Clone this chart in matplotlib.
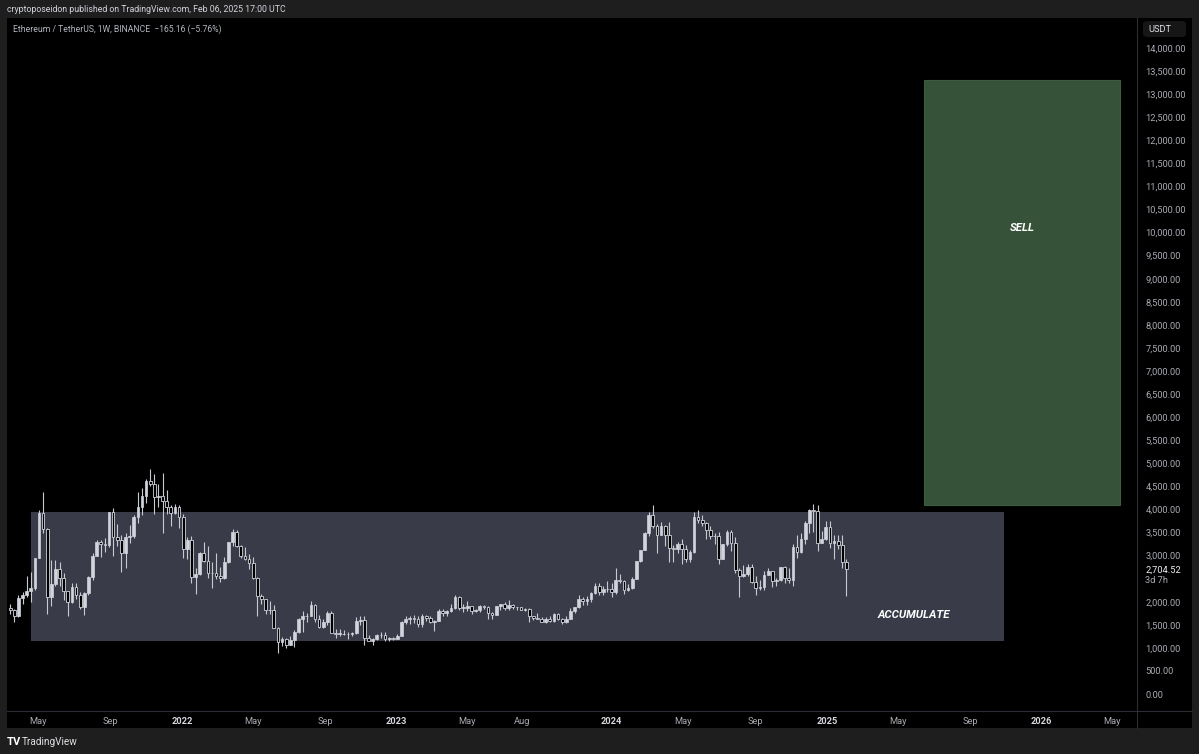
import numpy as np
import pandas as pd
import matplotlib
matplotlib.use("Agg")
import matplotlib.pyplot as plt
import matplotlib.dates as mdates
import matplotlib.transforms as mtrans
from matplotlib.patches import Rectangle, FancyBboxPatch
from matplotlib.lines import Line2D

plt.rcParams['font.family'] = ['Roboto', 'DejaVu Sans']

# ---------------- data (weekly ETH/USDT candles) ----------------
first_week = "2021-03-15"
opens = [1870, 1810, 1690, 2080, 2140, 2240, 2300, 2950, 3920, 3580,
         2100, 2380, 2710, 2510, 2230, 1990, 2320, 2140, 1890, 2190,
         2540, 3000, 3290, 3250, 3230, 3940, 3400, 3330, 3060, 3400,
         3420, 3830, 4050, 4290, 4610, 4560, 4270, 4290, 4190, 4060,
         3920, 4050, 3830, 3150, 3330, 2540, 2600, 3060, 2880, 2620,
         2620, 2550, 2520, 2860, 3290, 3510, 3200, 2990, 2930, 2830,
         2520, 2120, 2050, 1820, 1810, 1440, 1130, 1200, 1070, 1170,
         1340, 1620, 1680, 1700, 1930, 1620, 1450, 1570, 1760, 1330,
         1300, 1310, 1290, 1310, 1320, 1590, 1610, 1220, 1150, 1200,
         1280, 1270, 1190, 1220, 1200, 1260, 1550, 1630, 1640, 1630,
         1510, 1690, 1640, 1570, 1590, 1790, 1750, 1790, 1860, 2100,
         1870, 1870, 1900, 1800, 1810, 1910, 1890, 1750, 1720, 1900,
         1940, 1870, 1930, 1890, 1880, 1830, 1850, 1680, 1650, 1630,
         1560, 1620, 1590, 1730, 1630, 1560, 1630, 1800, 1890, 2050,
         2010, 2060, 2190, 2350, 2200, 2270, 2280, 2220, 2470, 2450,
         2260, 2290, 2500, 2880, 3110, 3490, 3890, 3640, 3450, 3650,
         3450, 3160, 3150, 3260, 3140, 2930, 3070, 3830, 3780, 3700,
         3560, 3420, 3430, 2930, 3240, 3520, 3270, 2690, 2560, 2610,
         2750, 2430, 2290, 2320, 2580, 2660, 2440, 2470, 2750, 2510,
         2460, 3180, 3080, 3360, 3710, 3990, 3960, 3280, 3360, 3630,
         3270, 3310, 3230, 2870]
highs = [1940, 1840, 2140, 2200, 2550, 2640, 2950, 3980, 4370, 3600,
         2900, 2900, 2850, 2620, 2240, 2400, 2410, 2200, 2200, 2550,
         3050, 3330, 3340, 3380, 3950, 4030, 3680, 3440, 3480, 3660,
         3890, 4380, 4460, 4660, 4870, 4770, 4550, 4780, 4420, 4100,
         4120, 4100, 3900, 3410, 3420, 2730, 3070, 3290, 3200, 2850,
         3050, 2750, 2960, 3300, 3580, 3550, 3230, 3190, 3030, 2960,
         2540, 2170, 2060, 2020, 1920, 1460, 1240, 1220, 1250, 1380,
         1650, 1790, 1760, 2020, 1960, 1720, 1620, 1790, 1790, 1400,
         1400, 1390, 1340, 1350, 1660, 1680, 1680, 1280, 1220, 1310,
         1350, 1350, 1230, 1230, 1290, 1580, 1680, 1680, 1720, 1680,
         1740, 1720, 1680, 1600, 1840, 1840, 1830, 1950, 2140, 2130,
         1960, 2020, 1900, 1850, 1920, 1930, 1900, 1780, 1910, 1960,
         1990, 2030, 1950, 1890, 1880, 1870, 1870, 1690, 1750, 1660,
         1660, 1680, 1750, 1750, 1640, 1700, 1860, 1890, 2140, 2100,
         2130, 2200, 2400, 2400, 2340, 2450, 2410, 2720, 2590, 2470,
         2390, 2540, 2870, 3130, 3520, 3950, 4090, 3680, 3730, 3670,
         3730, 3220, 3290, 3350, 3220, 3120, 3940, 3980, 3890, 3720,
         3640, 3490, 3520, 3250, 3560, 3560, 3400, 2720, 2800, 2820,
         2820, 2550, 2470, 2670, 2730, 2670, 2520, 2760, 2770, 2720,
         3250, 3450, 3500, 3740, 4010, 4110, 4100, 3540, 3740, 3750,
         3450, 3450, 3440, 2930]
lows = [1730, 1550, 1670, 1940, 2100, 2000, 2250, 2940, 3500, 1730,
        1900, 2350, 2350, 2040, 1700, 1970, 2050, 1850, 1720, 2150,
        2460, 2980, 2960, 3070, 3180, 3000, 3200, 2650, 2740, 3280,
        3370, 3700, 3890, 4150, 4500, 3900, 4060, 3500, 3900, 3640,
        3900, 3600, 2950, 2930, 2400, 2160, 2580, 2860, 2510, 2300,
        2500, 2430, 2500, 2840, 3210, 3180, 2950, 2900, 2700, 2500,
        1700, 1950, 1730, 1740, 1420, 880, 1040, 1000, 1060, 1010,
        1330, 1350, 1550, 1680, 1550, 1420, 1420, 1500, 1330, 1220,
        1260, 1270, 1190, 1250, 1300, 1500, 1070, 1140, 1070, 1170,
        1220, 1150, 1150, 1180, 1190, 1250, 1510, 1520, 1540, 1460,
        1460, 1580, 1540, 1370, 1590, 1690, 1680, 1780, 1850, 1820,
        1780, 1790, 1740, 1780, 1780, 1850, 1630, 1620, 1720, 1820,
        1820, 1830, 1850, 1830, 1810, 1800, 1550, 1600, 1620, 1550,
        1530, 1570, 1570, 1600, 1520, 1540, 1620, 1760, 1870, 1930,
        1930, 1990, 2170, 2150, 2140, 2220, 2100, 2170, 2410, 2160,
        2230, 2280, 2500, 2860, 3110, 3420, 3600, 3060, 3440, 3210,
        2850, 2870, 3060, 2810, 2860, 2860, 3060, 3710, 3640, 3360,
        3360, 3240, 2810, 2930, 3200, 3090, 2630, 2110, 2540, 2560,
        2400, 2150, 2260, 2260, 2570, 2310, 2350, 2440, 2400, 2400,
        2350, 2950, 3050, 3250, 3500, 3520, 3100, 3280, 3340, 3160,
        2920, 3140, 2740, 2120]
closes = opens[1:] + [2704.52]

price_ticks = [0, 500, 1000, 1500, 2000, 3000, 3500, 4000, 4500, 5000, 5500,
               6000, 6500, 7000, 7500, 8000, 8500, 9000, 9500, 10000, 10500,
               11000, 11500, 12000, 12500, 13000, 13500, 14000]
time_tick_dates = ["2021-05-01", "2021-09-01", "2022-01-01", "2022-05-01",
                   "2022-09-01", "2023-01-01", "2023-05-01", "2023-08-01",
                   "2024-01-01", "2024-05-01", "2024-09-01", "2025-01-01",
                   "2025-05-01", "2025-09-01", "2026-01-01", "2026-05-01"]
time_tick_labels = ["May", "Sep", "2022", "May", "Sep", "2023", "May", "Aug",
                    "2024", "May", "Sep", "2025", "May", "Sep", "2026", "May"]

accum_box = ("2021-04-19", "2025-10-29", 1150, 3950)
sell_box = ("2025-06-15", "2026-05-14", 4100, 13300)

# ---------------- figure ----------------
W, H = 1199, 754
fig = plt.figure(figsize=(W / 100, H / 100), dpi=100, facecolor="#1e1e1e")

def fx(x):
    return x / W

def fy(y):
    return 1 - y / H

# black chart panel (behind everything)
fig.patches.append(Rectangle((fx(7), fy(728)), fx(1192) - fx(7), fy(18) - fy(728),
                             transform=fig.transFigure, facecolor="#000000",
                             edgecolor="none", zorder=-10))

ax_l, ax_r, ax_t, ax_b = 7, 1137, 18, 711
ax = fig.add_axes([fx(ax_l), fy(ax_b), fx(ax_r) - fx(ax_l), fy(ax_t) - fy(ax_b)])
ax.set_facecolor("#000000")
ax.set_zorder(1)

dates = pd.date_range(first_week, periods=len(closes), freq="7D")
xd = mdates.date2num(dates.to_pydatetime())

o = np.array(opens, float)
c = np.array(closes, float)
h = np.array(highs, float)
l = np.array(lows, float)
up = c >= o

# boxes
d0, d1 = mdates.datestr2num(accum_box[0]), mdates.datestr2num(accum_box[1])
ax.add_patch(Rectangle((d0, accum_box[2]), d1 - d0, accum_box[3] - accum_box[2],
                       facecolor="#393c48", edgecolor="none", zorder=1))
s0, s1 = mdates.datestr2num(sell_box[0]), mdates.datestr2num(sell_box[1])
ax.add_patch(Rectangle((s0, sell_box[2]), s1 - s0, sell_box[3] - sell_box[2],
                       facecolor="#365239", edgecolor="#3d5c3f", linewidth=0.8, zorder=1))

# candles
ax.vlines(xd, l, h, color="#c8cad2", linewidth=0.8, zorder=2)
body_w = 4.6
bot = np.minimum(o, c)
height = np.maximum(np.abs(c - o), 12)
ax.bar(xd[up], height[up], bottom=bot[up], width=body_w, color="#d1d4dc",
       edgecolor="#d1d4dc", linewidth=0.5, zorder=3)
ax.bar(xd[~up], height[~up], bottom=bot[~up], width=body_w, color="#000000",
       edgecolor="#d1d4dc", linewidth=0.6, zorder=3)

# labels in boxes
ax.text((s0 + s1) / 2, 10100, "SELL", color="white", fontsize=8.2, fontweight="bold",
        fontstyle="italic", ha="center", va="center", zorder=4)
ax.text(mdates.datestr2num("2025-05-29"), 1712, "ACCUMULATE", color="white", fontsize=8.2,
        fontweight="bold", fontstyle="italic", ha="center", va="center", zorder=4)

# scales
px_per_1000 = (694 - 48) / 14.0
ax.set_ylim((694 - ax_b) / px_per_1000 * 1000, (694 - ax_t) / px_per_1000 * 1000)
ref = mdates.datestr2num("2022-01-01")
px_per_day = (827 - 182) / (mdates.datestr2num("2025-01-01") - ref)
ax.set_xlim(ref + (ax_l - 182) / px_per_day, ref + (ax_r - 182) / px_per_day)

for sp in ax.spines.values():
    sp.set_visible(False)

ax.yaxis.tick_right()
ax.set_yticks(price_ticks)
ax.set_yticklabels([f"{v:,.2f}" for v in price_ticks])
ax.tick_params(axis="y", length=0, pad=6, labelsize=6.7, labelcolor="#a9abb3")

ax.set_xticks([mdates.datestr2num(d) for d in time_tick_dates])
ax.set_xticklabels(time_tick_labels)
ax.tick_params(axis="x", length=0, pad=4.5, labelsize=6.7, labelcolor="#a9abb3")
for lab in ax.get_xticklabels():
    if lab.get_text().isdigit():
        lab.set_fontweight("bold")
        lab.set_color("#d6d8de")

# last price label + countdown
shift = mtrans.ScaledTranslation(6 / 72, -0.5 / 72, fig.dpi_scale_trans)
ax.text(1.0, c[-1], f"{c[-1]:,.2f}", transform=ax.get_yaxis_transform() + shift,
        color="#eceef2", fontsize=6.7, ha="left", va="center", clip_on=False)
shift2 = mtrans.ScaledTranslation(6 / 72, -7.8 / 72, fig.dpi_scale_trans)
ax.text(1.0, c[-1], "3d 7h", transform=ax.get_yaxis_transform() + shift2,
        color="#a9abb3", fontsize=6.7, ha="left", va="center", clip_on=False)

# separators
sep = "#2a2d35"
fig.add_artist(Line2D([fx(1137), fx(1137)], [fy(18), fy(728)], color=sep, lw=0.8))
fig.add_artist(Line2D([fx(7), fx(1192)], [fy(711), fy(711)], color=sep, lw=0.8))

# USDT box
fig.patches.append(FancyBboxPatch((fx(1143), fy(37)), fx(1186) - fx(1143), fy(21) - fy(37),
                                  boxstyle="round,pad=0,rounding_size=0.004",
                                  transform=fig.transFigure, facecolor="#161616",
                                  edgecolor="none", zorder=2))
fig.text(fx(1148), fy(29), "USDT", color="#e0e1e5", fontsize=6.7, ha="left", va="center")

# header / legend / footer
fig.text(fx(7), fy(10), "cryptoposeidon published on TradingView.com, Feb 06, 2025 17:00 UTC",
         color="#d1d4dc", fontsize=6.35, ha="left", va="center")
fig.text(fx(13), fy(29), "Ethereum / TetherUS, 1W, BINANCE  \u2212165.16 (\u22125.76%)",
         color="#b2b5be", fontsize=6.25, ha="left", va="center", zorder=5)
fig.text(fx(7), fy(742), "TV", color="#ffffff", fontsize=8, fontweight="bold",
         ha="left", va="center")
fig.text(fx(22), fy(742), "TradingView", color="#e0e1e5", fontsize=7.2, ha="left", va="center")

fig.savefig("out.png", dpi=100, facecolor=fig.get_facecolor())
